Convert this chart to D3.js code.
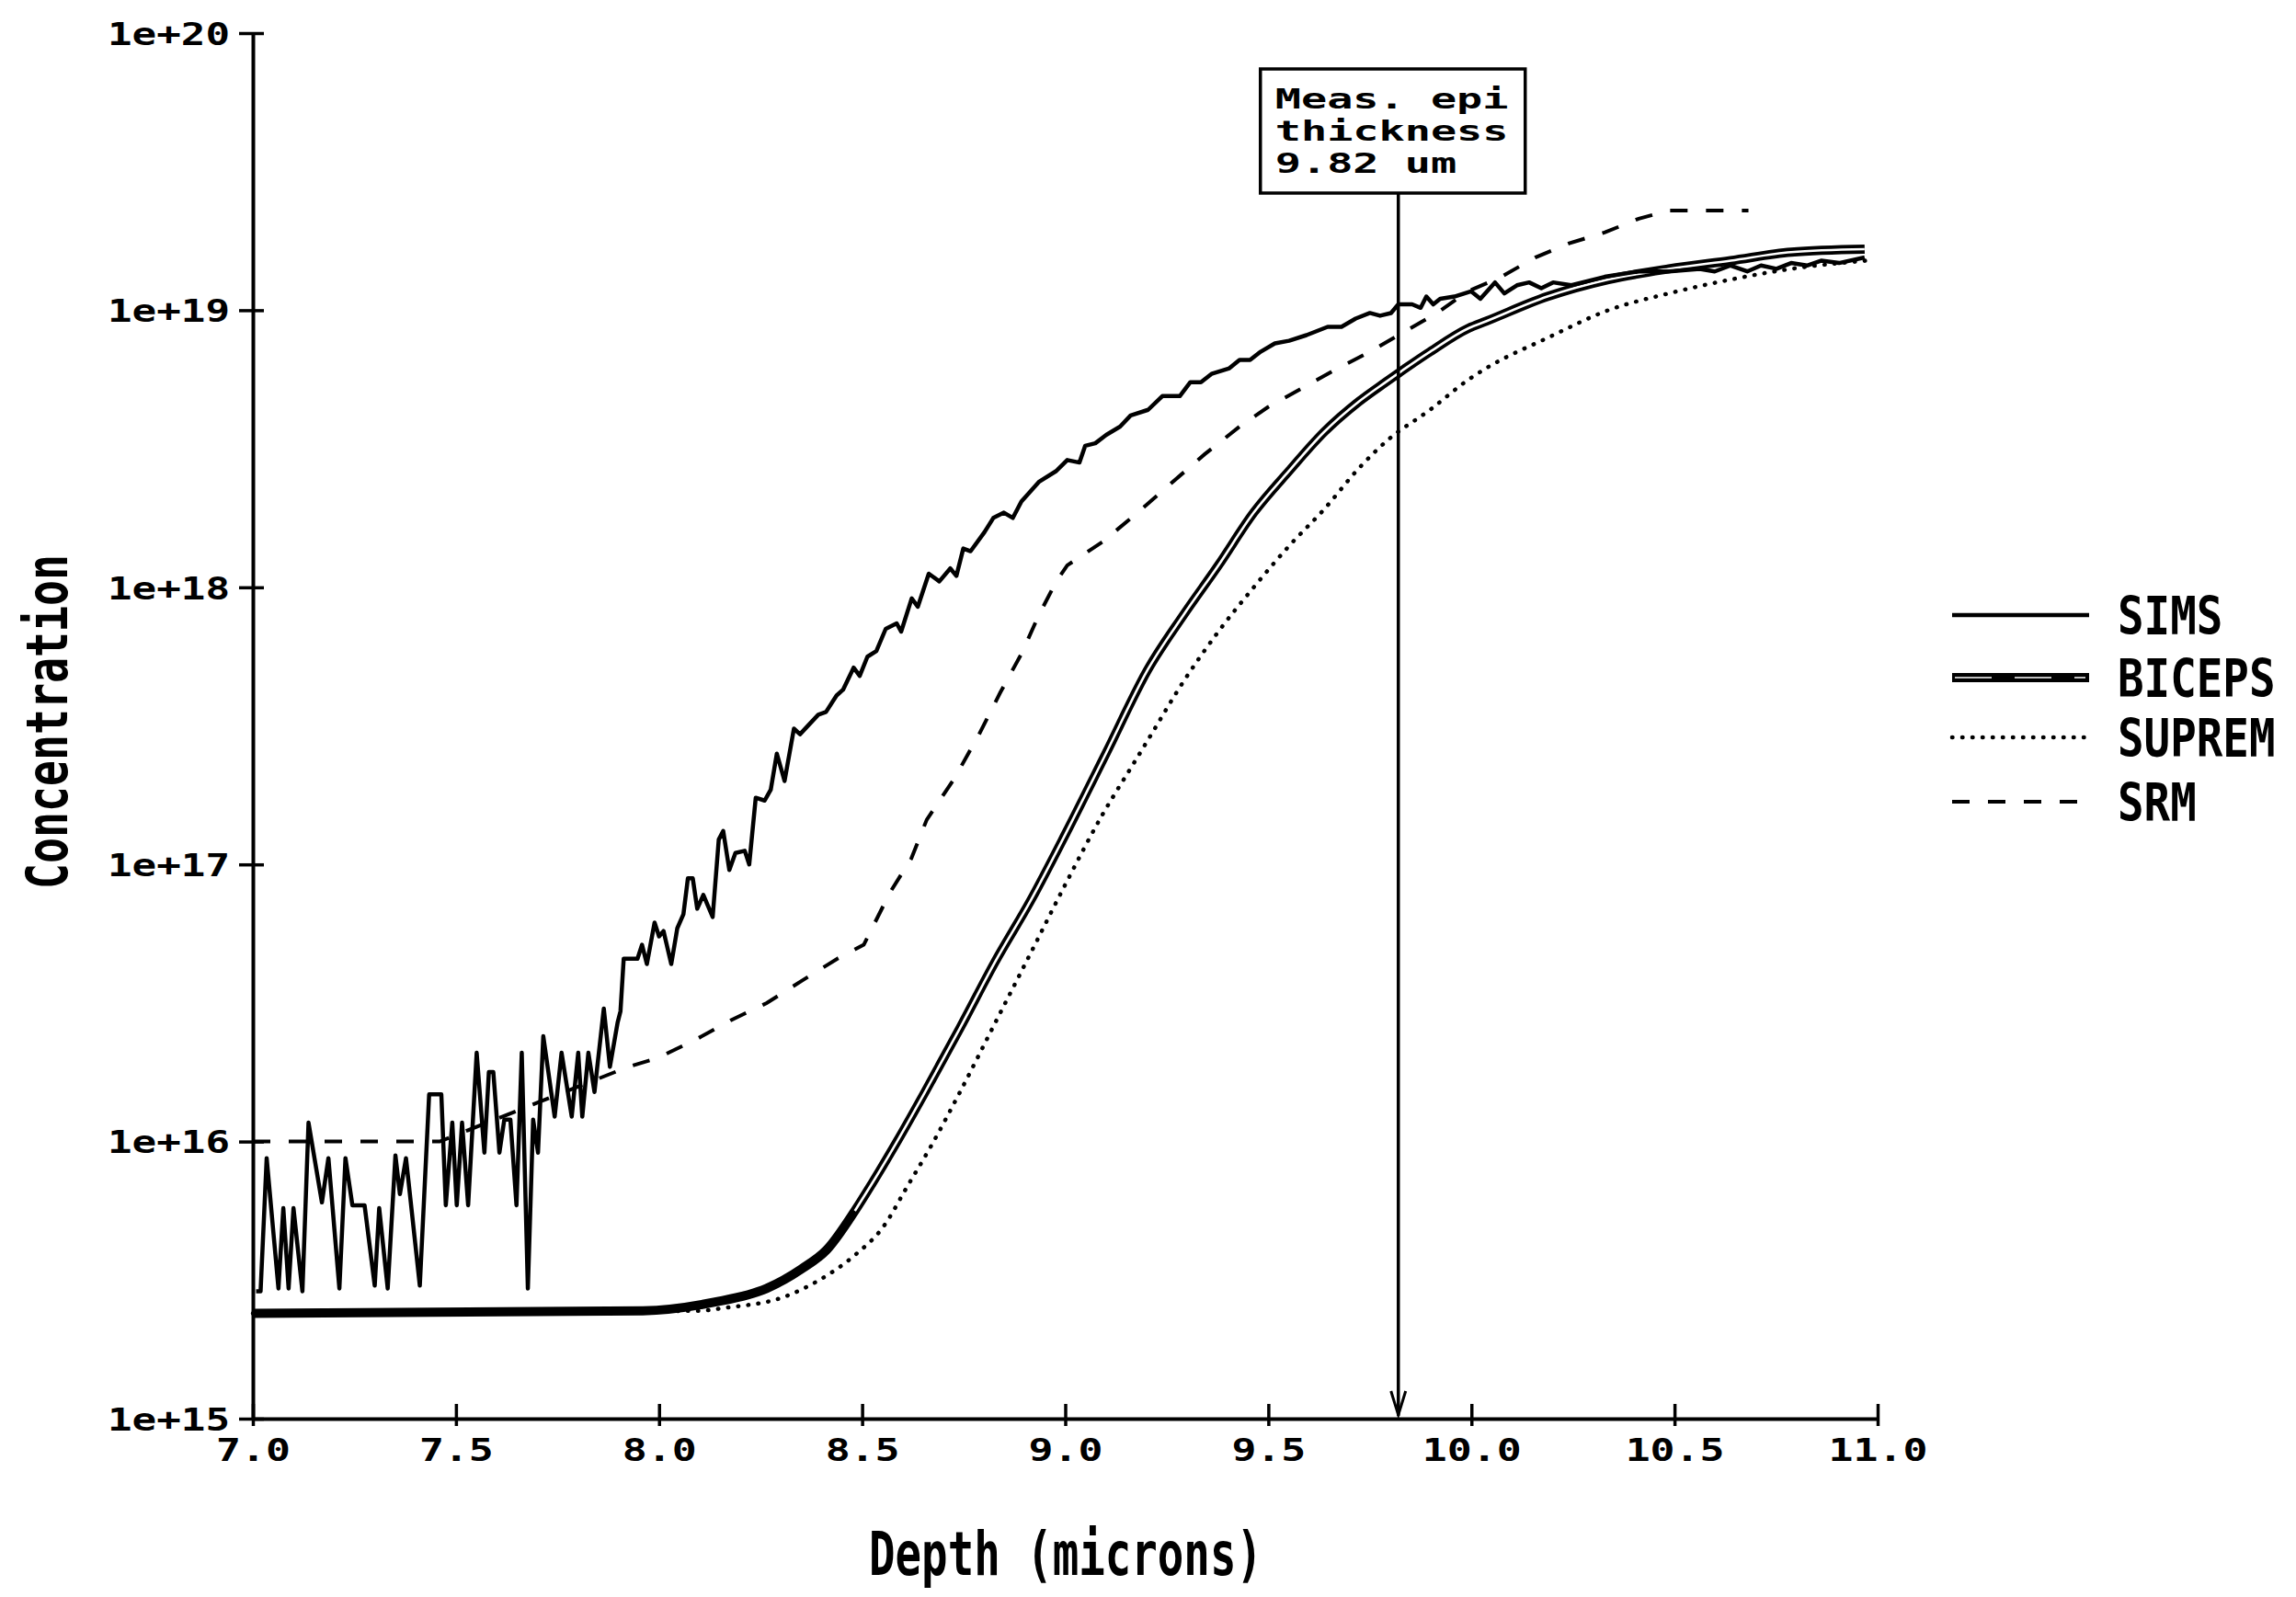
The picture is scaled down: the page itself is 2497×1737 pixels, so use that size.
<!DOCTYPE html>
<html><head><meta charset="utf-8">
<script src="https://cdn.jsdelivr.net/npm/d3@7"></script>
<style>html,body{margin:0;padding:0;background:#fff;} svg{display:block;background:#fff;}</style>
</head><body>
<svg id="chart" width="2497" height="1737"></svg>
<script>
// ---------- data ----------
const depthTicks = [7.0, 7.5, 8.0, 8.5, 9.0, 9.5, 10.0, 10.5, 11.0];
const concTicks = [1e15, 1e16, 1e17, 1e18, 1e19, 1e20];
const concTickLabels = ["1e+15", "1e+16", "1e+17", "1e+18", "1e+19", "1e+20"];
const seriesNames = ["SIMS", "BICEPS", "SUPREM", "SRM"];
const xTitle = "Depth (microns)";
const yTitle = "Concentration";
const epiThickness = 9.82;
const noteLines = ["Meas. epi", "thickness", "9.82 um"];

const simsDepth = [
  7.008,7.019,7.034,7.063,7.075,7.088,7.100,7.122,7.137,7.170,
  7.186,7.213,7.228,7.245,7.275,7.300,7.311,7.332,7.351,7.362,
  7.377,7.411,7.434,7.464,7.475,7.491,7.502,7.515,7.530,7.551,
  7.570,7.581,7.592,7.607,7.619,7.634,7.649,7.662,7.677,7.690,
  7.702,7.715,7.743,7.760,7.785,7.801,7.811,7.826,7.841,7.864,
  7.879,7.898,7.905,7.913,7.947,7.958,7.970,7.989,8.000,8.011,
  8.030,8.045,8.060,8.071,8.083,8.094,8.109,8.132,8.147,8.158,
  8.173,8.188,8.211,8.222,8.238,8.260,8.275,8.290,8.309,8.332,
  8.347,8.366,8.392,8.411,8.437,8.453,8.479,8.494,8.513,8.535,
  8.558,8.585,8.596,8.622,8.637,8.664,8.690,8.717,8.732,8.749,
  8.767,8.801,8.823,8.849,8.871,8.892,8.935,8.978,9.005,9.035,
  9.049,9.074,9.101,9.135,9.161,9.204,9.239,9.282,9.308,9.334,
  9.360,9.404,9.429,9.455,9.481,9.516,9.551,9.594,9.646,9.680,
  9.715,9.750,9.775,9.802,9.820,9.854,9.875,9.889,9.906,9.923,
  9.958,9.999,10.022,10.058,10.081,10.112,10.142,10.172,10.201,10.246,
  10.328,10.412,10.486,10.562,10.599,10.638,10.679,10.713,10.751,10.787,
  10.826,10.862,10.905,10.968];
const simsConc = [
  2.88e15,2.88e15,8.71e15,2.95e15,5.75e15,2.95e15,5.75e15,2.88e15,1.17e16,6.03e15,
  8.71e15,2.95e15,8.71e15,5.89e15,5.89e15,3.02e15,5.75e15,2.95e15,8.91e15,6.46e15,
  8.71e15,3.02e15,1.48e16,1.48e16,5.89e15,1.17e16,5.89e15,1.17e16,5.89e15,2.09e16,
  9.12e15,1.78e16,1.78e16,9.12e15,1.20e16,1.20e16,5.89e15,2.09e16,2.95e15,1.20e16,
  9.12e15,2.40e16,1.23e16,2.09e16,1.23e16,2.09e16,1.23e16,2.09e16,1.51e16,3.02e16,
  1.86e16,2.69e16,2.95e16,4.57e16,4.57e16,5.13e16,4.37e16,6.17e16,5.50e16,5.75e16,
  4.37e16,5.89e16,6.61e16,8.91e16,8.91e16,6.92e16,7.76e16,6.46e16,1.23e17,1.32e17,
  9.55e16,1.10e17,1.12e17,1.00e17,1.74e17,1.70e17,1.86e17,2.51e17,2.00e17,3.09e17,
  2.95e17,3.16e17,3.47e17,3.55e17,4.07e17,4.27e17,5.13e17,4.79e17,5.62e17,5.89e17,
  7.08e17,7.41e17,6.92e17,9.12e17,8.51e17,1.12e18,1.05e18,1.17e18,1.10e18,1.38e18,
  1.35e18,1.58e18,1.78e18,1.86e18,1.78e18,2.04e18,2.40e18,2.63e18,2.88e18,2.82e18,
  3.24e18,3.31e18,3.55e18,3.80e18,4.17e18,4.37e18,4.90e18,4.90e18,5.50e18,5.50e18,
  5.89e18,6.17e18,6.61e18,6.61e18,7.08e18,7.59e18,7.76e18,8.13e18,8.71e18,8.71e18,
  9.33e18,9.77e18,9.55e18,9.77e18,1.05e19,1.05e19,1.02e19,1.12e19,1.05e19,1.10e19,
  1.12e19,1.17e19,1.10e19,1.26e19,1.15e19,1.23e19,1.26e19,1.20e19,1.26e19,1.23e19,
  1.32e19,1.38e19,1.38e19,1.41e19,1.38e19,1.45e19,1.38e19,1.45e19,1.41e19,1.48e19,
  1.45e19,1.51e19,1.48e19,1.55e19];

const bicepsDepth = [7.00,7.96,8.135,8.265,8.351,8.413,8.482,8.525,8.586,8.655,8.741,8.828,8.915,9.001,9.100,9.204,9.291,9.377,9.464,9.551,9.637,9.723,9.789,9.898,9.993,10.036,10.187,10.337,10.486,10.638,10.787,10.968];
const bicepsConc = [2.40e15,2.45e15,2.63e15,2.95e15,3.47e15,4.07e15,5.62e15,7.08e15,1.00e16,1.51e16,2.57e16,4.47e16,7.41e16,1.29e17,2.51e17,5.07e17,7.94e17,1.20e18,1.86e18,2.63e18,3.63e18,4.68e18,5.50e18,7.08e18,8.61e18,9.12e18,1.12e19,1.29e19,1.41e19,1.51e19,1.62e19,1.66e19];

const supremDepth = [7.00,8.10,8.161,8.308,8.394,8.482,8.551,8.612,8.672,8.741,8.828,8.915,9.001,9.088,9.175,9.204,9.291,9.377,9.464,9.551,9.637,9.723,9.793,9.898,9.993,10.036,10.187,10.337,10.486,10.638,10.787,10.973];
const supremConc = [2.40e15,2.45e15,2.51e15,2.75e15,3.16e15,3.89e15,4.90e15,6.92e15,9.77e15,1.51e16,2.69e16,4.79e16,8.51e16,1.48e17,2.40e17,2.82e17,4.57e17,6.92e17,1.00e18,1.41e18,1.91e18,2.69e18,3.39e18,4.37e18,5.62e18,6.17e18,7.94e18,1.00e19,1.15e19,1.29e19,1.41e19,1.51e19];

const srmDepth = [7.00,7.46,7.70,7.924,7.996,8.092,8.179,8.265,8.351,8.439,8.504,8.569,8.621,8.659,8.727,8.788,8.840,8.892,8.935,8.978,9.005,9.092,9.178,9.256,9.343,9.429,9.499,9.585,9.671,9.750,9.832,9.915,9.991,10.074,10.157,10.239,10.329,10.412,10.486,10.682];
const srmConc = [1.00e16,1.00e16,1.38e16,1.86e16,2.00e16,2.34e16,2.75e16,3.16e16,3.80e16,4.57e16,5.13e16,7.94e16,1.05e17,1.45e17,2.04e17,2.95e17,4.17e17,5.75e17,7.94e17,1.05e18,1.20e18,1.46e18,1.86e18,2.34e18,3.02e18,3.80e18,4.47e18,5.25e18,6.17e18,7.08e18,8.32e18,9.77e18,1.17e19,1.32e19,1.55e19,1.74e19,1.91e19,2.14e19,2.29e19,2.29e19];

// ---------- drawing ----------
const svg = d3.select('#chart');
const mono = "'DejaVu Sans Mono', 'Liberation Mono', monospace";
const x = d3.scaleLinear().domain([depthTicks[0], depthTicks[depthTicks.length - 1]]).range([275, 2042]);
const y = d3.scaleLog().domain([concTicks[0], concTicks[concTicks.length - 1]]).range([1543, 36]);

// squeeze a text horizontally to a target width with a transform
function squeeze(sel, base, target) {
  const w = sel.node().getComputedTextLength();
  sel.attr('transform', `${base} scale(${(target / w).toFixed(4)},1)`);
}

// X axis
const gx = svg.append('g').attr('transform', `translate(0,${y(concTicks[0])})`)
  .call(d3.axisBottom(x).tickValues(depthTicks).tickFormat(d3.format('.1f')).tickSizeOuter(0));
gx.select('.domain').attr('stroke', '#000').attr('stroke-width', 4);
gx.selectAll('.tick line').attr('y1', -16).attr('y2', 8).attr('stroke', '#000').attr('stroke-width', 3.5);
gx.selectAll('.tick text')
  .attr('y', 46).attr('dy', null)
  .attr('font-family', mono).attr('font-weight', 'bold').attr('font-size', 34).attr('fill', '#000')
  .attr('textLength', function () { return this.textContent.length * 27; })
  .attr('lengthAdjust', 'spacingAndGlyphs');

// Y axis
const gy = svg.append('g').attr('transform', `translate(${x(depthTicks[0])},0)`)
  .call(d3.axisLeft(y).tickValues(concTicks).tickFormat((d, i) => concTickLabels[i]).tickSizeOuter(0));
gy.select('.domain').attr('stroke', '#000').attr('stroke-width', 4);
gy.selectAll('.tick line').attr('x1', 12).attr('x2', -15).attr('stroke', '#000').attr('stroke-width', 3.5);
gy.selectAll('.tick text')
  .attr('x', -25).attr('dy', '0.36em')
  .attr('font-family', mono).attr('font-weight', 'bold').attr('font-size', 34).attr('fill', '#000')
  .attr('textLength', 133).attr('lengthAdjust', 'spacingAndGlyphs');

// Axis titles
const xt = svg.append('text').attr('text-anchor', 'middle')
  .attr('font-family', mono).attr('font-weight', 'bold').attr('font-size', 66).text(xTitle);
squeeze(xt, 'translate(1159,1713)', 428);
const yt = svg.append('text').attr('text-anchor', 'middle')
  .attr('font-family', mono).attr('font-weight', 'bold').attr('font-size', 63).text(yTitle);
squeeze(yt, 'translate(73,785) rotate(-90)', 364);

// Series
const lineLin = d3.line().x(d => x(d[0])).y(d => y(d[1]));
const lineSmooth = d3.line().x(d => x(d[0])).y(d => y(d[1])).curve(d3.curveMonotoneX);
const sims = d3.zip(simsDepth, simsConc);
const biceps = d3.zip(bicepsDepth, bicepsConc);
const suprem = d3.zip(supremDepth, supremConc);
const srm = d3.zip(srmDepth, srmConc);

const styles = {
  SIMS: { width: 4.5, dash: null },
  SRM: { width: 4, dash: '19,20' },
  SUPREM: { width: 4.5, dash: '0.5,10.5' }
};

svg.append('path').datum(srm).attr('d', lineLin).attr('fill', 'none').attr('stroke', '#000')
  .attr('stroke-width', styles.SRM.width).attr('stroke-dasharray', styles.SRM.dash);
svg.append('path').datum(suprem).attr('d', lineSmooth).attr('fill', 'none').attr('stroke', '#000')
  .attr('stroke-width', styles.SUPREM.width).attr('stroke-dasharray', styles.SUPREM.dash)
  .attr('stroke-linecap', 'round');
svg.append('path').datum(biceps).attr('d', lineSmooth).attr('fill', 'none').attr('stroke', '#000')
  .attr('stroke-width', 10).attr('stroke-linejoin', 'round');
svg.append('path').datum(biceps.filter(d => d[0] >= 8.45)).attr('d', lineSmooth).attr('fill', 'none')
  .attr('stroke', '#fff').attr('stroke-width', 2.6);
svg.append('path').datum(sims).attr('d', lineLin).attr('fill', 'none').attr('stroke', '#000')
  .attr('stroke-width', styles.SIMS.width).attr('stroke-linejoin', 'round');

// Annotation box + arrow
const ax = x(epiThickness);
const boxW = 288, boxH = 135, boxTop = 75;
const y0 = y(concTicks[0]);
const boxLeft = ax - boxW / 2 - 6;
svg.append('rect').attr('x', boxLeft).attr('y', boxTop).attr('width', boxW).attr('height', boxH)
  .attr('fill', '#fff').attr('stroke', '#000').attr('stroke-width', 3.5);
svg.append('line').attr('x1', ax).attr('x2', ax).attr('y1', boxTop + boxH).attr('y2', y0 - 3)
  .attr('stroke', '#000').attr('stroke-width', 3.5);
svg.append('path').attr('d', `M${ax - 8},${y0 - 30}L${ax},${y0 - 4}L${ax + 8},${y0 - 30}`)
  .attr('fill', 'none').attr('stroke', '#000').attr('stroke-width', 3);
const noteBase = [43, 78, 113];
svg.selectAll('text.note').data(noteLines).join('text').attr('class', 'note')
  .attr('x', boxLeft + 16).attr('y', (d, i) => boxTop + noteBase[i])
  .attr('font-family', mono).attr('font-weight', 'bold').attr('font-size', 30)
  .attr('textLength', d => d.length * 28.2).attr('lengthAdjust', 'spacingAndGlyphs')
  .text(d => d);

// Legend
const legendY = [669, 737, 802, 872];
const lg = svg.append('g');
seriesNames.forEach((name, i) => {
  const yy = legendY[i];
  const ln = lg.append('line').attr('x1', 2123).attr('x2', 2272).attr('y1', yy).attr('y2', yy).attr('stroke', '#000');
  if (name === 'BICEPS') {
    ln.attr('stroke-width', 10);
    lg.append('line').attr('x1', 2126).attr('x2', 2268).attr('y1', yy).attr('y2', yy)
      .attr('stroke', '#fff').attr('stroke-width', 1.6).attr('stroke-dasharray', '40,25');
  } else {
    ln.attr('stroke-width', styles[name].width);
    if (styles[name].dash) ln.attr('stroke-dasharray', styles[name].dash);
    if (name === 'SUPREM') ln.attr('stroke-linecap', 'round');
  }
  const t = lg.append('text')
    .attr('font-family', mono).attr('font-weight', 'bold').attr('font-size', 57)
    .text(name);
  squeeze(t, `translate(2303,${yy + 21})`, name.length * 28.6);
});
</script>
</body></html>
